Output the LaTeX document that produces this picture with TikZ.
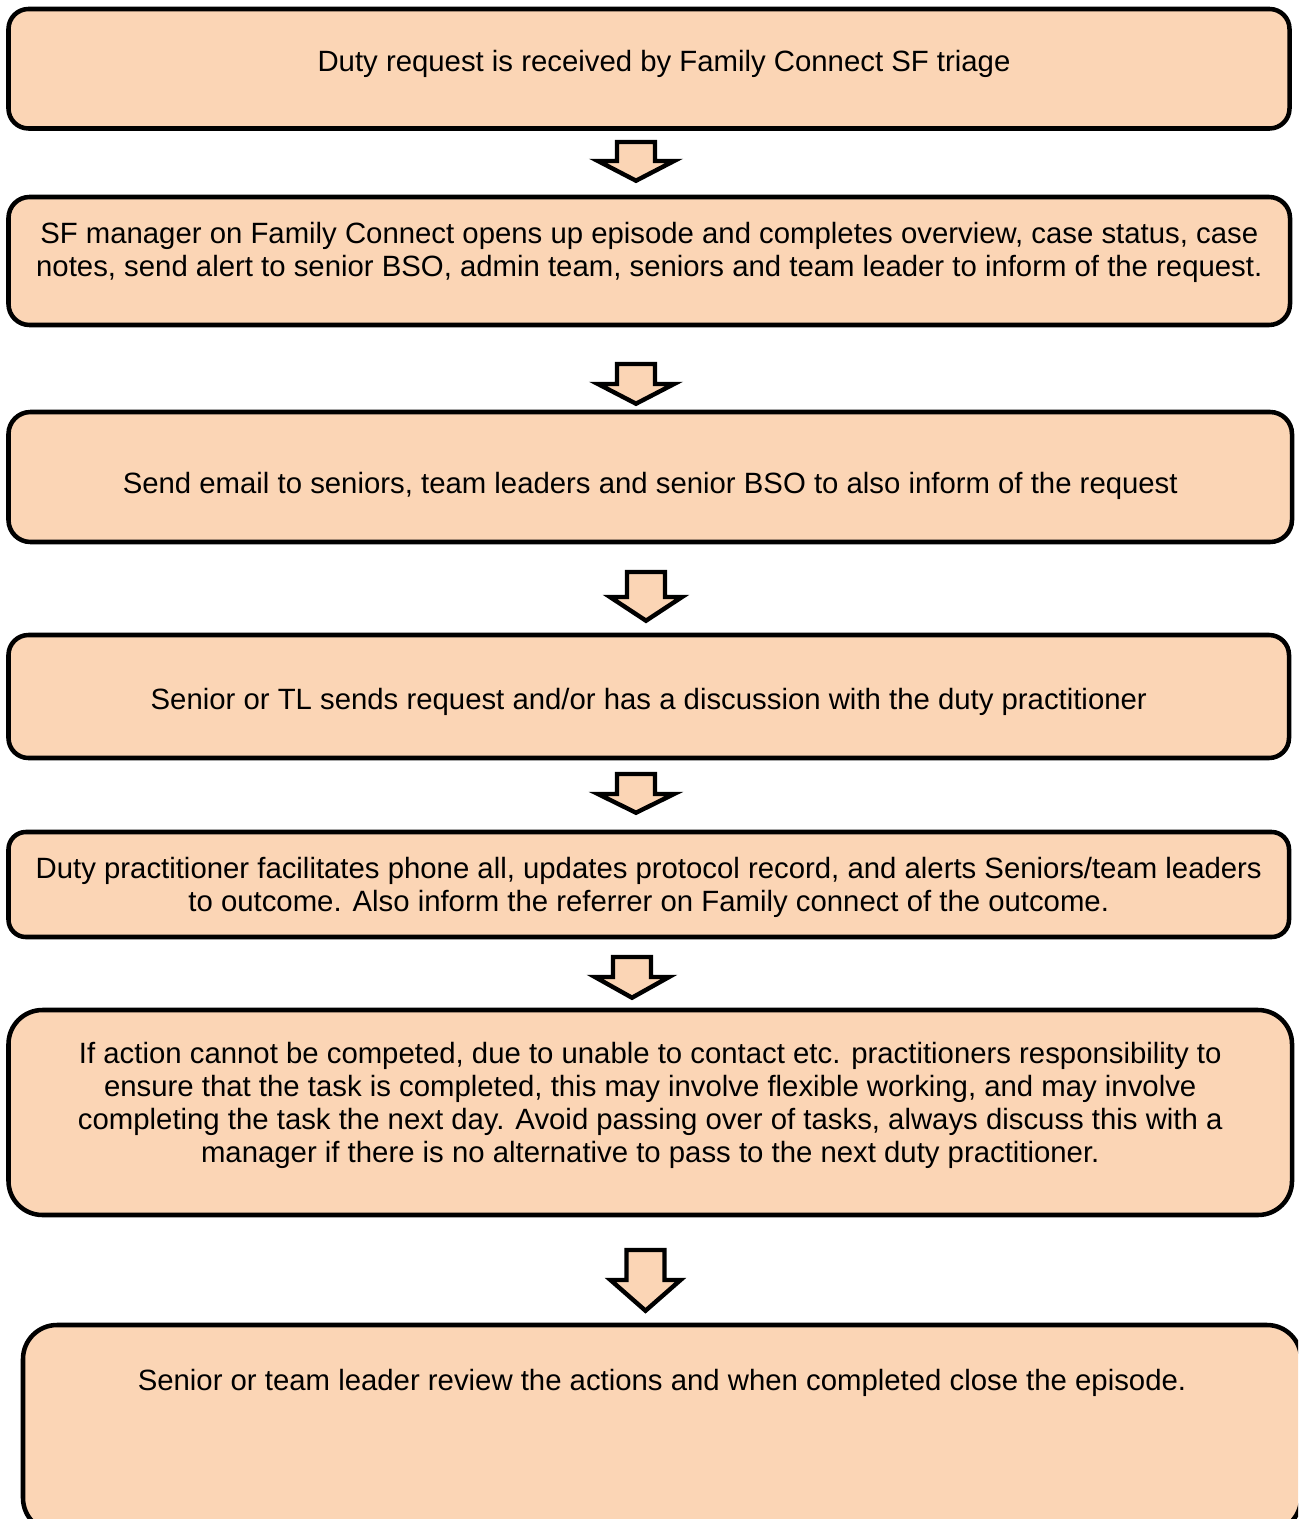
\documentclass[tikz,border=0pt]{standalone}
\usepackage{fontspec}
\setmainfont{Liberation Sans}
\usepackage{tikz}
\definecolor{peach}{HTML}{FBD5B5}
\tikzstyle{stepbox}=[rectangle, draw, line width=3.4pt, fill=peach, align=center, inner sep=0pt, font=\fontsize{22}{24.75}\selectfont]
\tikzstyle{downarrow}=[draw, line width=3.3pt, fill=peach, line join=miter]
\tikzset{boxsize/.style 2 args={minimum width=#1*0.75pt, minimum height=#2*0.75pt}}
\newcommand{\firstline}{\rule{0pt}{20.5pt}}

\begin{document}
\begin{tikzpicture}[x=0.75pt, y=-0.75pt]
    \useasboundingbox (0,0) rectangle (1298,1519);
    \clip (0,0) rectangle (1298,1519);

    % the steps of the duty request
    \node[stepbox, boxsize={1281}{119.5}, rounded corners=15pt, text depth=16pt] (request) at (649,68.75)
      {\firstline\hspace*{22.5pt}Duty request is received by Family Connect SF triage};
    \node[stepbox, boxsize={1281.5}{128}, rounded corners=15.75pt, text depth=22.5pt] (episode) at (649.25,261)
      {\firstline SF manager on Family Connect opens up episode and completes overview, case status, case\\
       notes, send alert to senior BSO, admin team, seniors and team leader to inform of the request.};
    \node[stepbox, boxsize={1283.5}{130}, rounded corners=16.5pt, text height=29.5pt] (email) at (650.25,477)
      {Send email to seniors, team leaders and senior BSO to also inform of the request};
    \node[stepbox, boxsize={1280.5}{123}, rounded corners=15pt, text height=24.3pt] (discuss) at (648.75,696.5)
      {Senior or TL sends request and/or has a discussion with the duty practitioner};
    \node[stepbox, boxsize={1280.5}{105}, rounded corners=13pt] (phone) at (648.75,884.5)
      {\firstline Duty practitioner facilitates phone all, updates protocol record, and alerts Seniors/team leaders\\
       to outcome. Also inform the referrer on Family connect of the outcome.};
    \node[stepbox, boxsize={1283.5}{205}, rounded corners=25.5pt, text depth=20.25pt] (action) at (650.25,1112.5)
      {\firstline If action cannot be competed, due to unable to contact etc. practitioners responsibility to\\
       ensure that the task is completed, this may involve flexible working, and may involve\\
       completing the task the next day. Avoid passing over of tasks, always discuss this with a\\
       manager if there is no alternative to pass to the next duty practitioner.};
    \node[stepbox, boxsize={1278}{207}, rounded corners=25.5pt, text depth=77pt] (review) at (662,1428.5)
      {\firstline Senior or team leader review the actions and when completed close the episode.};

    % block arrows between the steps
    \foreach \xc/\ya/\yb/\yc/\sw/\hw in {636/142/161/180.7/19/38, 636/364/384/403.7/19/38,
      646/572/597/620.7/19/36, 636/774/794/812.7/19/38, 632/957/977/997.7/19/37,
      645.5/1250/1280/1310.7/19/35}
    \draw[downarrow] (\xc-\sw,\ya) -- (\xc+\sw,\ya) -- (\xc+\sw,\yb) -- (\xc+\hw,\yb)
      -- (\xc,\yc) -- (\xc-\hw,\yb) -- (\xc-\sw,\yb) -- cycle;
\end{tikzpicture}
\end{document}
